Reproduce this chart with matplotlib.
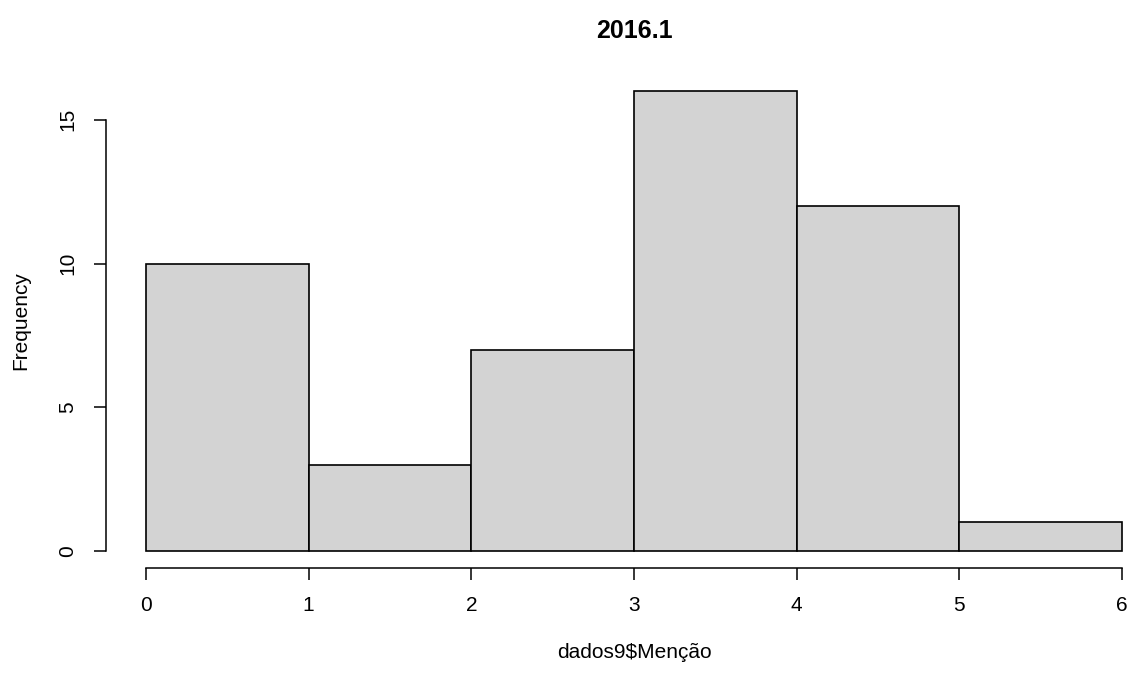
import matplotlib.pyplot as plt

plt.rcParams['font.family'] = ['Liberation Sans', 'DejaVu Sans']

# dados da figura
bins = [0, 1, 2, 3, 4, 5, 6]
counts = [10, 3, 7, 16, 12, 1]
yticks = [0, 5, 10, 15]

fig = plt.figure(figsize=(11.35, 6.75), dpi=100)
ax = fig.add_axes([146 / 1135, (675 - 551) / 675, (1122 - 146) / 1135, (551 - 91) / 675])

ax.hist(bins[:-1], bins=bins, weights=counts, color='#D3D3D3',
        edgecolor='black', linewidth=1.2, clip_on=False)

ax.set_xlim(0, 6)
ax.set_ylim(0, 16)

# eixos no estilo do R base
for s in ['top', 'right']:
    ax.spines[s].set_visible(False)
ax.spines['left'].set_position(('outward', 28.8))
ax.spines['bottom'].set_position(('outward', 12.2))
ax.spines['left'].set_bounds(0, 15)
ax.spines['bottom'].set_bounds(0, 6)
ax.spines['left'].set_linewidth(1.1)
ax.spines['bottom'].set_linewidth(1.1)

ax.set_xticks(bins)
ax.set_yticks(yticks)
ax.set_yticklabels([str(v) for v in yticks], rotation=90, va='center')
ax.tick_params(length=8.5, width=1.1, labelsize=15, pad=12)

ax.set_title('2016.1', fontsize=18, fontweight='bold', pad=38)
ax.set_xlabel('dados9\\$Menção', fontsize=15, labelpad=20)
ax.set_ylabel('Frequency', fontsize=15, labelpad=20)

plt.savefig('out.png', dpi=100)
